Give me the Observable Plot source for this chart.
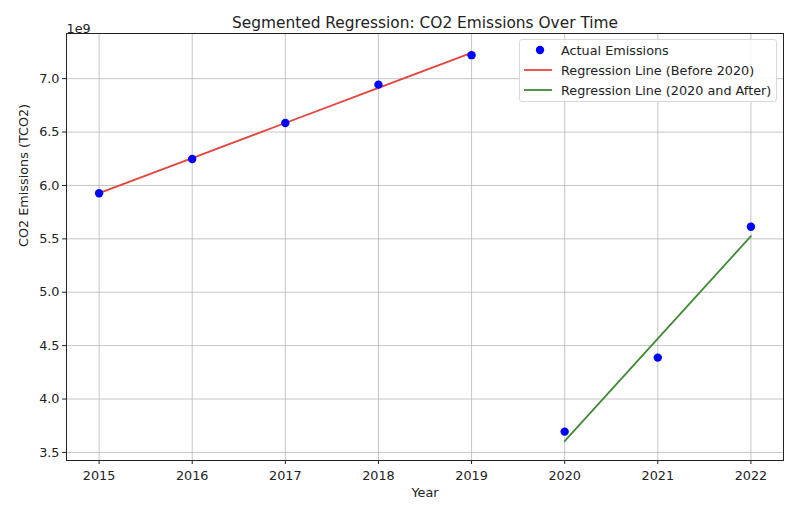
<!DOCTYPE html>
<html>
<head>
<meta charset="utf-8">
<script src="https://cdn.jsdelivr.net/npm/d3@7"></script>
<script src="https://cdn.jsdelivr.net/npm/@observablehq/plot@0.6"></script>
<style>
  body { margin: 0; background: #fff; }
  #wrap { position: relative; width: 806px; height: 506px; font-family: "DejaVu Sans", sans-serif; }
  #legend { position: absolute; left: 519px; top: 39px; width: 256px; height: 61px;
    border: 1px solid #d9d9d9; border-radius: 3px; background: rgba(255,255,255,0.85);
    font-size: 12.8px; color: #222; }
  .row { position: absolute; left: 0; height: 20px; display: flex; align-items: center; }
  .sw { width: 40px; position: relative; height: 20px; }
  .lab { margin-left: 1px; white-space: nowrap; }
</style>
</head>
<body>
<div id="wrap"></div>
<script>
const title = "Segmented Regression: CO2 Emissions Over Time";
const xLabel = "Year";
const yLabel = "CO2 Emissions (TCO2)";
const years = [2015, 2016, 2017, 2018, 2019, 2020, 2021, 2022];
const emissions = [5.927e9, 6.248e9, 6.585e9, 6.944e9, 7.22e9, 3.695e9, 4.388e9, 5.614e9];
const breakYear = 2020;
const xTicks = [2015, 2016, 2017, 2018, 2019, 2020, 2021, 2022];
const yTicks = [3.5e9, 4.0e9, 4.5e9, 5.0e9, 5.5e9, 6.0e9, 6.5e9, 7.0e9];
const seriesNames = ["Actual Emissions", "Regression Line (Before 2020)", "Regression Line (2020 and After)"];
const colors = ["#0000ff", "#e8433a", "#3f8a34"];

const data = years.map((y, i) => ({year: y, value: emissions[i]}));
const before = data.filter(d => d.year < breakYear);
const after = data.filter(d => d.year >= breakYear);

function fit(pts) {
  const mx = d3.mean(pts, d => d.year), my = d3.mean(pts, d => d.value);
  const b = d3.sum(pts, d => (d.year - mx) * (d.value - my)) / d3.sum(pts, d => (d.year - mx) ** 2);
  return pts.map(d => ({year: d.year, value: my + b * (d.year - mx)}));
}
const fitBefore = fit(before);
const fitAfter = fit(after);

const allY = emissions.concat(fitBefore.map(d => d.value), fitAfter.map(d => d.value));
const yMin = d3.min(allY), yMax = d3.max(allY);
const yPad = (yMax - yMin) * 0.05;
const xPad = (d3.max(years) - d3.min(years)) * 0.05;

const chart = Plot.plot({
  width: 806,
  height: 506,
  marginLeft: 66,
  marginRight: 23,
  marginTop: 33,
  marginBottom: 46,
  style: {fontFamily: "DejaVu Sans, sans-serif", fontSize: "12.8px", color: "#222", background: "#fff"},
  x: {domain: [d3.min(years) - xPad, d3.max(years) + xPad]},
  y: {domain: [yMin - yPad, yMax + yPad]},
  marks: [
    Plot.gridX(xTicks, {stroke: "#b0b0b0", strokeOpacity: 0.8, strokeWidth: 0.9}),
    Plot.gridY(yTicks, {stroke: "#b0b0b0", strokeOpacity: 0.8, strokeWidth: 0.9}),
    Plot.axisX(xTicks, {tickFormat: d => String(d), tickSize: 4, tickPadding: 6, fontSize: 12.8, label: null, stroke: "#222"}),
    Plot.axisY(yTicks, {tickFormat: d => (d / 1e9).toFixed(1), tickSize: 4, tickPadding: 3, fontSize: 12.8, label: null, stroke: "#222"}),
    Plot.line(fitBefore, {x: "year", y: "value", stroke: colors[1], strokeWidth: 1.8}),
    Plot.line(fitAfter, {x: "year", y: "value", stroke: colors[2], strokeWidth: 1.8}),
    Plot.dot(data, {x: "year", y: "value", r: 4.2, fill: colors[0], stroke: "none"}),
    Plot.frame({stroke: "#222", strokeWidth: 1}),
    Plot.text([title], {frameAnchor: "top", dy: -16, fontSize: 15.4, fill: "#222"}),
    Plot.text(["1e9"], {frameAnchor: "top-left", dy: -10, textAnchor: "start", fontSize: 12.8, fill: "#222"}),
    Plot.text([xLabel], {frameAnchor: "bottom", dy: 36, fontSize: 12.8, fill: "#222"}),
    Plot.text([yLabel], {frameAnchor: "left", dx: -43, rotate: -90, fontSize: 12.8, fill: "#222"})
  ]
});

const wrap = document.getElementById("wrap");
wrap.appendChild(chart);

const legend = document.createElement("div");
legend.id = "legend";
seriesNames.forEach((name, i) => {
  const row = document.createElement("div");
  row.className = "row";
  row.style.top = (i * 20 + 0) + "px";
  const sw = document.createElement("div");
  sw.className = "sw";
  if (i === 0) {
    sw.innerHTML = `<svg width="40" height="20"><circle cx="20" cy="10" r="4.2" fill="${colors[0]}"/></svg>`;
  } else {
    sw.innerHTML = `<svg width="40" height="20"><line x1="4" x2="32" y1="10" y2="10" stroke="${colors[i]}" stroke-width="1.8"/></svg>`;
  }
  const lab = document.createElement("span");
  lab.className = "lab";
  lab.textContent = name;
  row.appendChild(sw);
  row.appendChild(lab);
  legend.appendChild(row);
});
wrap.appendChild(legend);
</script>
</body>
</html>
